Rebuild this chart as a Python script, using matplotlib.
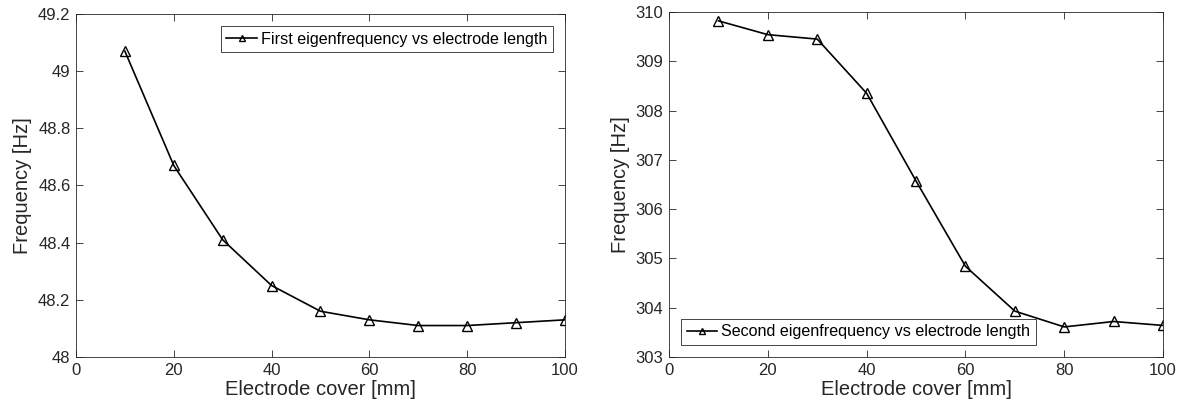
import numpy as np
import matplotlib
matplotlib.use('Agg')
import matplotlib.pyplot as plt

plt.rcParams['font.family'] = ['Liberation Sans', 'DejaVu Sans']

# electrode cover [mm]
cover = [10, 20, 30, 40, 50, 60, 70, 80, 90, 100]
# first and second eigenfrequency [Hz]
freq1 = [49.07, 48.67, 48.41, 48.25, 48.16, 48.13, 48.11, 48.11, 48.12, 48.13]
freq2 = [309.82, 309.54, 309.45, 308.35, 306.57, 304.84, 303.93, 303.61, 303.72, 303.64]

label1 = 'First eigenfrequency vs electrode length'
label2 = 'Second eigenfrequency vs electrode length'

GREY = '#262626'

fig = plt.figure(figsize=(11.85, 4.15), dpi=100)
ax1 = fig.add_axes([0.0641, 0.1398, 0.4127, 0.8265])
ax2 = fig.add_axes([0.5646, 0.1398, 0.4169, 0.8313])


def style(ax, yticks, ylim):
    ax.set_xlim(0, 100)
    ax.set_xticks(np.arange(0, 101, 20))
    ax.set_ylim(*ylim)
    ax.set_yticks(yticks)
    ax.tick_params(direction='in', top=True, right=True, length=5,
                   width=0.6, colors=GREY, labelsize=12, pad=4)
    for s in ax.spines.values():
        s.set_color(GREY)
        s.set_linewidth(0.6)
    ax.set_xlabel('Electrode cover [mm]', fontsize=14.5, color=GREY, labelpad=2)
    ax.set_ylabel('Frequency [Hz]', fontsize=14.5, color=GREY, labelpad=4)


def legend(ax, loc):
    leg = ax.legend(loc=loc, fontsize=11.6, fancybox=False,
                    handlelength=1.9, handletextpad=0.25, borderpad=0.35,
                    borderaxespad=0.75, framealpha=1, markerscale=0.7)
    leg.get_frame().set_edgecolor(GREY)
    leg.get_frame().set_linewidth(0.6)
    for t in leg.get_texts():
        t.set_color('black')


ax1.plot(cover, freq1, color='black', lw=1.2, marker='^', ms=6.5,
         mfc='none', mec='black', mew=1.0, label=label1)
style(ax1, [48, 48.2, 48.4, 48.6, 48.8, 49, 49.2], (48, 49.2))
ax1.set_yticklabels(['48', '48.2', '48.4', '48.6', '48.8', '49', '49.2'])
legend(ax1, 'upper right')

ax2.plot(cover, freq2, color='black', lw=1.2, marker='^', ms=6.5,
         mfc='none', mec='black', mew=1.0, label=label2)
style(ax2, np.arange(303, 311, 1), (303, 310))
legend(ax2, 'lower left')

fig.savefig('out.png', dpi=100)
